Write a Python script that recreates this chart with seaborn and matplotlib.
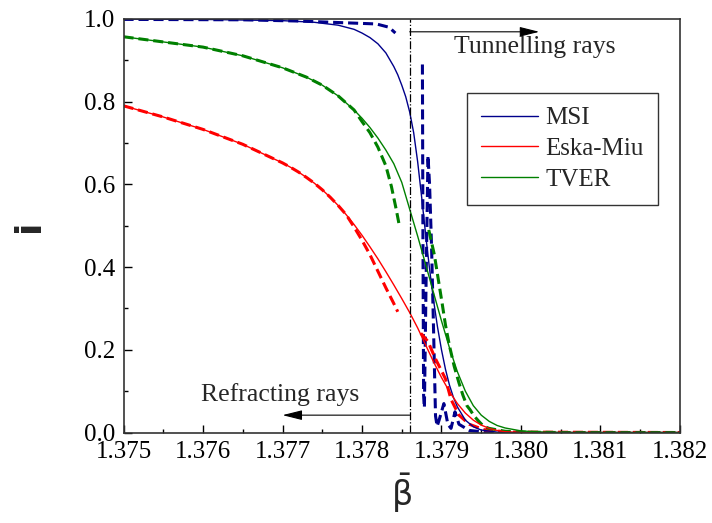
import numpy as np
import pandas as pd
import seaborn as sns
import matplotlib.pyplot as plt
from matplotlib.ticker import MultipleLocator, FormatStrFormatter

# values (beta_bar, i)
msi_x = [1.37500, 1.37600, 1.37700, 1.37740, 1.37770, 1.37790, 1.37800, 1.37810, 1.37820,
         1.37830, 1.37840, 1.37845, 1.37850, 1.37855, 1.37860, 1.37865, 1.37870, 1.37875,
         1.37880, 1.37885, 1.37890, 1.37895, 1.37900, 1.37905, 1.37910, 1.37915, 1.37920,
         1.37930, 1.37940, 1.37950, 1.37970, 1.37990, 1.38200]
msi_y = [0.9995, 0.999, 0.996, 0.992, 0.985, 0.975, 0.966, 0.955, 0.94,
         0.918, 0.885, 0.865, 0.84, 0.812, 0.775, 0.725, 0.655, 0.57,
         0.48, 0.395, 0.32, 0.255, 0.20, 0.153, 0.115, 0.085, 0.062,
         0.03, 0.014, 0.006, 0.001, 0.0, 0.0]

eska_x = [1.37500, 1.37550, 1.37600, 1.37650, 1.37700, 1.37710, 1.37720, 1.37730, 1.37740,
          1.37750, 1.37760, 1.37770, 1.37780, 1.37790, 1.37800, 1.37810, 1.37820, 1.37830,
          1.37840, 1.37850, 1.37860, 1.37870, 1.37880, 1.37890, 1.37900, 1.37910, 1.37920,
          1.37930, 1.37940, 1.37950, 1.37960, 1.37970, 1.37980, 1.38000, 1.38200]
eska_y = [0.790, 0.763, 0.733, 0.697, 0.652, 0.6415, 0.630, 0.617, 0.603,
          0.587, 0.569, 0.549, 0.527, 0.503, 0.477, 0.449, 0.420, 0.389,
          0.357, 0.324, 0.290, 0.253, 0.212, 0.171, 0.133, 0.099, 0.070,
          0.047, 0.030, 0.018, 0.010, 0.005, 0.002, 0.0, 0.0]

tver_x = [1.37500, 1.37600, 1.37650, 1.37700, 1.37730, 1.37750, 1.37770, 1.37790, 1.37800,
          1.37810, 1.37820, 1.37830, 1.37840, 1.37850, 1.37860, 1.37870, 1.37880, 1.37890,
          1.37900, 1.37910, 1.37920, 1.37930, 1.37940, 1.37950, 1.37960, 1.37970, 1.37980,
          1.38000, 1.38020, 1.38050, 1.38200]
tver_y = [0.957, 0.932, 0.911, 0.882, 0.8595, 0.84, 0.814, 0.78, 0.76,
          0.7375, 0.712, 0.683, 0.65, 0.605, 0.54, 0.475, 0.407, 0.338,
          0.27, 0.205, 0.147, 0.10, 0.065, 0.042, 0.027, 0.017, 0.011,
          0.004, 0.0015, 0.0, 0.0]

# dashed curves: refracting part (left of the line) and tunnelling part (right)
msi_d1_x = [1.37500, 1.37650, 1.37721, 1.37790, 1.37818, 1.37834, 1.37842]
msi_d1_y = [0.999, 0.998, 0.995, 0.99, 0.988, 0.98, 0.966]
msi_d2_x = [1.378760, 1.378766, 1.378775, 1.378785, 1.378805, 1.378830, 1.378850, 1.378875,
            1.378900, 1.378925, 1.378945, 1.378970, 1.379030, 1.379080, 1.379120, 1.379170,
            1.379220, 1.379350, 1.379600, 1.382000]
msi_d2_y = [0.89, 0.50, 0.09, 0.06, 0.35, 0.67, 0.60, 0.45,
            0.25, 0.04, 0.015, 0.03, 0.07, 0.02, 0.01, 0.05,
            0.02, 0.005, 0.0, 0.0]

eska_d1_x = [1.37500, 1.37550, 1.37600, 1.37650, 1.37700, 1.37710, 1.37720, 1.37730, 1.37740,
             1.37750, 1.37760, 1.37770, 1.37780, 1.37790, 1.37800, 1.37810, 1.37820, 1.37830,
             1.37840, 1.37845]
eska_d1_y = [0.790, 0.763, 0.733, 0.697, 0.652, 0.6415, 0.630, 0.617, 0.603,
             0.587, 0.569, 0.549, 0.527, 0.497, 0.465, 0.430, 0.390, 0.350,
             0.312, 0.292]
eska_d2_x = [1.37874, 1.37883, 1.37892, 1.37905, 1.37912, 1.37922, 1.37935, 1.37953, 1.37985, 1.38200]
eska_d2_y = [0.24, 0.22, 0.18, 0.13, 0.08, 0.042, 0.02, 0.007, 0.001, 0.0]

tver_d1_x = [1.37500, 1.37600, 1.37650, 1.37700, 1.37730, 1.37750, 1.37770, 1.37790, 1.37800,
             1.37810, 1.37820, 1.37830, 1.37837, 1.37843, 1.37847]
tver_d1_y = [0.957, 0.932, 0.911, 0.882, 0.8595, 0.84, 0.814, 0.78, 0.752,
             0.725, 0.69, 0.645, 0.595, 0.54, 0.50]
tver_d2_x = [1.37884, 1.37891, 1.37896, 1.37901, 1.37905, 1.37910, 1.37916, 1.37922, 1.37927,
             1.37932, 1.37936, 1.37941, 1.37947, 1.37953, 1.37960, 1.37980, 1.38000, 1.38050,
             1.38200]
tver_d2_y = [0.49, 0.43, 0.37, 0.31, 0.26, 0.21, 0.16, 0.12, 0.09,
             0.065, 0.055, 0.04, 0.027, 0.015, 0.01, 0.003, 0.001, 0.0,
             0.0]

boundary = 1.3786

sns.set_theme(style="ticks")
plt.rcParams['font.family'] = ['Liberation Serif', 'DejaVu Serif']
plt.rcParams['mathtext.fontset'] = 'dejavusans'

fig = plt.figure(figsize=(7.12, 5.23), dpi=100)
ax = fig.add_axes([0.1735, 0.173, 0.7815, 0.7907])

blue, red, green = '#00008B', '#FF0000', '#008000'
dash = (0, (3.3, 1.6))

solid = [(msi_x, msi_y, blue, 'MSI'), (eska_x, eska_y, red, 'Eska-Miu'), (tver_x, tver_y, green, 'TVER')]
dashed = [(msi_d1_x, msi_d1_y, blue), (msi_d2_x, msi_d2_y, blue),
          (eska_d1_x, eska_d1_y, red), (eska_d2_x, eska_d2_y, red),
          (tver_d1_x, tver_d1_y, green), (tver_d2_x, tver_d2_y, green)]

for xs, ys, c in dashed:
    sns.lineplot(x=xs, y=ys, ax=ax, color=c, linewidth=2.2, linestyle=dash,
                 sort=False, estimator=None, legend=False)

handles = []
for xs, ys, c, name in solid:
    sns.lineplot(x=xs, y=ys, ax=ax, color=c, linewidth=1.0, sort=False, estimator=None, legend=False)
    handles.append(ax.lines[-1])

ax.axvline(boundary, color='black', linewidth=0.9, linestyle='-.')

# arrows and notes
ax.annotate('', xy=(1.38023, 0.969), xytext=(boundary, 0.969),
            arrowprops=dict(arrowstyle='-|>,head_length=1.2,head_width=0.3', color='black',
                            lw=0.8, shrinkA=0, shrinkB=0, mutation_scale=10))
ax.text(1.37916, 0.932, 'Tunnelling rays', fontsize=18.5, ha='left', va='center')
ax.annotate('', xy=(1.37700, 0.042), xytext=(boundary, 0.042),
            arrowprops=dict(arrowstyle='-|>,head_length=1.2,head_width=0.3', color='black',
                            lw=0.8, shrinkA=0, shrinkB=0, mutation_scale=10))
ax.text(1.37598, 0.093, 'Refracting rays', fontsize=18.5, ha='left', va='center')

ax.set_xlim(1.375, 1.382)
ax.set_ylim(0.0, 1.0)
ax.xaxis.set_major_locator(MultipleLocator(0.001))
ax.xaxis.set_minor_locator(MultipleLocator(0.0005))
ax.yaxis.set_major_locator(MultipleLocator(0.2))
ax.yaxis.set_minor_locator(MultipleLocator(0.1))
ax.xaxis.set_major_formatter(FormatStrFormatter('%.3f'))
ax.yaxis.set_major_formatter(FormatStrFormatter('%.1f'))
ax.tick_params(which='both', direction='in', width=1.0, colors='black', labelsize=18, pad=6)
ax.tick_params(which='major', length=6)
ax.tick_params(which='minor', length=3)
for s in ax.spines.values():
    s.set_linewidth(1.2)
    s.set_color('#333333')

ax.set_xlabel(r'$\bar{\mathrm{\beta}}$', fontsize=24, family='DejaVu Sans', labelpad=6)
ax.set_ylabel('i', fontsize=26, family='DejaVu Sans', fontweight='bold', labelpad=27)

leg = ax.legend(handles, [s[3] for s in solid], loc='upper left', bbox_to_anchor=(0.617, 0.821),
                borderaxespad=0, fontsize=18, frameon=True, fancybox=False, framealpha=1,
                edgecolor='#333333', handlelength=2.3, handletextpad=0.3,
                labelspacing=0.33, borderpad=0.55)
leg.get_frame().set_linewidth(1.0)

fig.savefig('out.png', dpi=100)
